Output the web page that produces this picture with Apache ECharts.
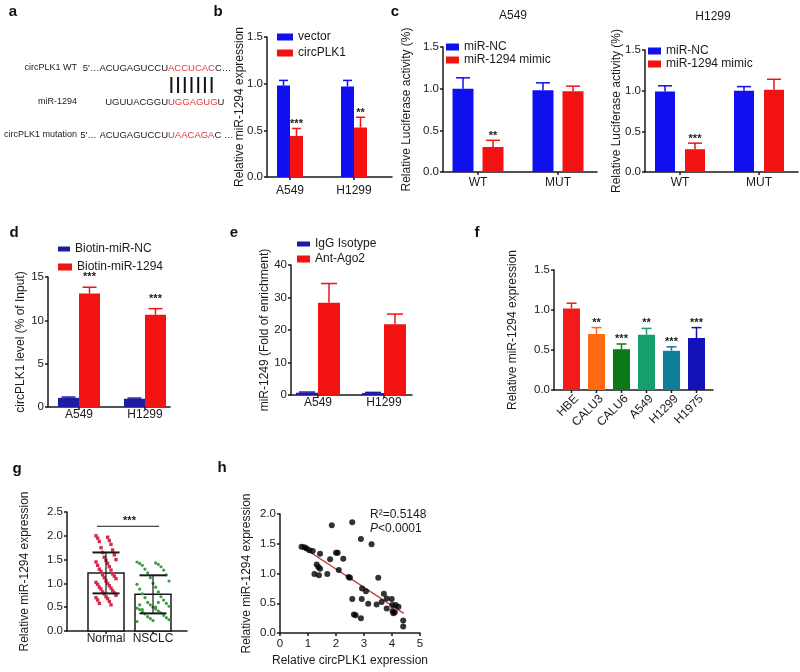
<!DOCTYPE html>
<html><head><meta charset="utf-8"><title>chart</title>
<script src="https://cdn.jsdelivr.net/npm/echarts@6.0.0/dist/echarts.min.js"></script>
<style>html,body{margin:0;padding:0;background:#fff;}#chart{width:800px;height:672px;}</style>
</head><body><div id="chart"></div>
<script>
// ================= DATA =================
// panel a
const aLabels = ['circPLK1 WT', 'miR-1294', 'circPLK1 mutation'];
const aPrefix = ["5'\u2026ACUGAGUCCU", 'UGUUACGGU', "5'\u2026 ACUGAGUCCU"];
const aSeed = ['ACCUCAC', 'UGGAGUG', 'UAACAGA'];
const aSuffix = ['C\u2026', 'U', 'C \u2026'];

// panel b
const bCategories = ['A549', 'H1299'];
const bVector = [0.98, 0.97];
const bVectorSD = [0.055, 0.065];
const bCircPLK1 = [0.44, 0.53];
const bCircPLK1SD = [0.08, 0.11];
const bStars = ['***', '**'];

// panel c
const cCategories = ['WT', 'MUT'];
const cA549NC = [1.00, 0.98];
const cA549NCSD = [0.13, 0.09];
const cA549Mimic = [0.30, 0.97];
const cA549MimicSD = [0.08, 0.06];
const cA549Stars = ['**', ''];
const cH1299NC = [0.99, 1.00];
const cH1299NCSD = [0.07, 0.05];
const cH1299Mimic = [0.28, 1.01];
const cH1299MimicSD = [0.075, 0.13];
const cH1299Stars = ['***', ''];

// panel d
const dCategories = ['A549', 'H1299'];
const dNC = [1.05, 0.95];
const dNCSD = [0.1, 0.08];
const d1294 = [13.1, 10.65];
const d1294SD = [0.72, 0.7];
const dStars = ['***', '***'];

// panel e
const eCategories = ['A549', 'H1299'];
const eIgG = [0.7, 0.6];
const eIgGSD = [0.2, 0.2];
const eAgo2 = [28.4, 21.8];
const eAgo2SD = [5.9, 3.1];

// panel f
const fCategories = ['HBE', 'CALU3', 'CALU6', 'A549', 'H1299', 'H1975'];
const fValues = [1.02, 0.70, 0.51, 0.69, 0.49, 0.65];
const fSD = [0.065, 0.08, 0.065, 0.08, 0.05, 0.13];
const fStars = ['', '**', '***', '**', '***', '***'];

// panel g
const gCategories = ['Normal', 'NSCLC'];
const gNormal = [2.00, 1.97, 1.95, 1.90, 1.88, 1.82, 1.75, 1.70, 1.65, 1.60, 1.55, 1.50, 1.48, 1.45, 1.42,
  1.38, 1.35, 1.30, 1.28, 1.25, 1.20, 1.18, 1.15, 1.12, 1.10, 1.05, 1.02, 1.00, 0.98, 0.95,
  0.92, 0.90, 0.88, 0.85, 0.82, 0.80, 0.78, 0.75, 0.72, 0.70, 0.68, 0.65, 0.62, 0.58, 0.55];
const gNSCLC = [1.45, 1.43, 1.42, 1.40, 1.38, 1.35, 1.30, 1.28, 1.22, 1.18, 1.12, 1.05, 1.00, 0.98, 0.92,
  0.88, 0.82, 0.78, 0.72, 0.70, 0.65, 0.60, 0.58, 0.55, 0.52, 0.50, 0.48, 0.46, 0.45, 0.42,
  0.40, 0.38, 0.36, 0.33, 0.30, 0.28, 0.26, 0.24, 0.22, 0.20, 0.50, 0.55, 0.60, 0.45];
const gMeans = [1.22, 0.77];
const gSD = [0.43, 0.40];
const gSigLabel = '***';

// panel h
const hX = [0.77, 0.87, 0.95, 1.05, 1.17, 1.43, 1.23, 1.31, 1.37, 1.43, 1.39, 1.69, 1.79, 1.85, 2.00,
  2.06, 2.10, 2.26, 2.45, 2.50, 2.58, 2.58, 2.64, 2.70, 2.89, 2.89, 2.93, 2.92, 3.07, 3.15,
  3.27, 3.45, 3.51, 3.63, 3.71, 3.81, 3.81, 3.99, 4.01, 4.05, 4.10, 4.13, 4.23, 4.40, 4.40, 4.02];
const hY = [1.45, 1.44, 1.42, 1.39, 1.38, 1.33, 0.99, 1.15, 1.11, 1.08, 0.97, 0.99, 1.24, 1.81, 1.35,
  1.35, 1.06, 1.25, 0.94, 0.93, 1.86, 0.57, 0.31, 0.30, 0.25, 1.58, 0.75, 0.57, 0.70, 0.49,
  1.49, 0.48, 0.93, 0.52, 0.66, 0.58, 0.41, 0.57, 0.47, 0.33, 0.35, 0.47, 0.44, 0.21, 0.11, 0.37];
const hFitStart = [0.78, 1.45];
const hFitEnd = [4.42, 0.33];
const hStatR2 = 'R\u00b2=0.5148';
const hStatP = '<0.0001';

// ================= STYLE / LAYOUT =================
const FONT = '"Liberation Sans", Arial, Helvetica, sans-serif';
const TXT = '#1a1a1a';
const AX = '#1a1a1a';
const BLUE = '#0f0ff0';
const RED = '#f21212';
const NAVY = '#1c1ca2';
const SEQRED = '#e4383c';
const fColors = ['#f21a1a', '#ff6912', '#0b7a16', '#17a06e', '#0e7f95', '#1212b6'];
const TICKFONT = 11.5;

const grids = [], xAxes = [], yAxes = [], series = [], legends = [], graphics = [];

const fmt1 = v => v.toFixed(1);
const fmt0 = v => String(Math.round(v));

function addGrid(L) {
  grids.push({left: L.left, top: L.top, width: L.width, height: L.height, containLabel: false, outerBoundsMode: 'none'});
  return grids.length - 1;
}
function yAxisCfg(gi, L, name, fmt) {
  return {gridIndex: gi, type: 'value', min: L.yMin, max: L.yMax, interval: L.yInt,
    axisLine: {show: true, onZero: false, lineStyle: {color: AX, width: 1.5}},
    axisTick: {show: true, inside: false, length: 3, lineStyle: {color: AX, width: 1.5}},
    axisLabel: {show: true, color: TXT, fontSize: TICKFONT, fontFamily: FONT, margin: 4, formatter: fmt},
    splitLine: {show: false},
    name: name, nameLocation: 'middle', nameGap: L.nameGap, nameMoveOverlap: false,
    nameTextStyle: {color: TXT, fontSize: 12, fontFamily: FONT}};
}
function catXAxisCfg(gi, L) {
  return {gridIndex: gi, type: 'value', min: (L.left - L.c0) / L.step, max: (L.left + L.width - L.c0) / L.step,
    axisLine: {show: true, onZero: false, lineStyle: {color: AX, width: 1.5}},
    axisTick: {show: false}, axisLabel: {show: false}, splitLine: {show: false}};
}
function txt(x, y, text, o) {
  o = o || {};
  return {type: 'text', x: x, y: y, rotation: o.rotation || 0, silent: true,
    style: {text: text, fill: o.color || TXT, font: o.font || ('12px ' + FONT),
      align: o.align || 'center', verticalAlign: o.va || 'middle',
      textAlign: o.align || 'center', textVerticalAlign: o.va || 'middle'}};
}
function catSeries(gi, cats, L) {
  return {type: 'custom', xAxisIndex: gi, yAxisIndex: gi, silent: true, z: 4,
    data: cats.map((c, i) => [i, 0]), encode: {x: 0, y: 1},
    renderItem(params, api) {
      const i = api.value(0);
      const p = api.coord([i, 0]);
      const ch = [{type: 'line', shape: {x1: p[0], y1: p[1], x2: p[0], y2: p[1] + 3}, style: {stroke: AX, lineWidth: 1.5}}];
      if (L.rotate) ch.push(txt(p[0] + L.ldx, p[1] + L.ldy, cats[i], {align: 'right', rotation: Math.PI / 4}));
      else ch.push(txt(p[0], p[1] + L.ldy, cats[i]));
      return {type: 'group', children: ch};
    }};
}
function barSeries(gi, G, L) {
  return {type: 'custom', name: G.name, xAxisIndex: gi, yAxisIndex: gi, z: 2,
    itemStyle: {color: G.color || G.colors[0]},
    data: G.values.map((v, i) => [i, v, G.sd[i]]), encode: {x: 0, y: 1},
    renderItem(params, api) {
      const i = api.value(0), v = api.value(1), sd = api.value(2);
      const base = api.coord([i, 0]), top = api.coord([i, v]), et = api.coord([i, v + sd]);
      const cx = base[0] + G.offset;
      const col = G.colors ? G.colors[i] : G.color;
      const ch = [
        {type: 'rect', shape: {x: cx - L.barW / 2, y: top[1], width: L.barW, height: base[1] - top[1]}, style: {fill: col}},
        {type: 'line', shape: {x1: cx, y1: top[1], x2: cx, y2: et[1]}, style: {stroke: col, lineWidth: 1.5}},
        {type: 'line', shape: {x1: cx - L.cap / 2, y1: et[1], x2: cx + L.cap / 2, y2: et[1]}, style: {stroke: col, lineWidth: 1.5}}
      ];
      if (G.stars && G.stars[i]) ch.push(txt(cx, et[1] - L.starGap, G.stars[i], {font: 'bold 11px ' + FONT}));
      return {type: 'group', children: ch};
    }};
}
function addLegend(name, left, cy, w, h) {
  legends.push({show: true, data: [name], left: left, top: cy - 7, orient: 'horizontal', padding: 0, itemGap: 0,
    icon: 'rect', itemWidth: w, itemHeight: h, selectedMode: false, itemStyle: {borderWidth: 0},
    textStyle: {fontSize: 12, fontFamily: FONT, color: TXT}});
}
function barPanel(L, yName, fmt, cats, groups) {
  const gi = addGrid(L);
  xAxes.push(catXAxisCfg(gi, L));
  yAxes.push(yAxisCfg(gi, L, yName, fmt));
  groups.forEach(G => series.push(barSeries(gi, G, L)));
  series.push(catSeries(gi, cats, L));
  return gi;
}

// ---- panel b ----
const bL = {left: 267, top: 37, width: 125, height: 140, c0: 290, step: 64, yMin: 0, yMax: 1.5, yInt: 0.5,
  nameGap: 21, barW: 13, cap: 9, starGap: 4, ldy: 14};
barPanel(bL, 'Relative miR-1294 expression', fmt1, bCategories, [
  {name: 'vector', color: BLUE, values: bVector, sd: bVectorSD, offset: -6.5},
  {name: 'circPLK1', color: RED, values: bCircPLK1, sd: bCircPLK1SD, stars: bStars, offset: 6.5}]);
addLegend('vector', 277, 38, 16, 7);
addLegend('circPLK1', 277, 54, 16, 7);

// ---- panel c (A549) ----
const cAL = {left: 443, top: 47, width: 154, height: 125, c0: 478, step: 80, yMin: 0, yMax: 1.5, yInt: 0.5,
  nameGap: 30, barW: 21, cap: 14, starGap: 4, ldy: 11};
barPanel(cAL, 'Relative Luciferase activity (%)', fmt1, cCategories, [
  {name: 'miR-NC', color: BLUE, values: cA549NC, sd: cA549NCSD, offset: -15},
  {name: 'miR-1294 mimic', color: RED, values: cA549Mimic, sd: cA549MimicSD, stars: cA549Stars, offset: 15}]);
addLegend('miR-NC', 446, 48, 13, 7);
addLegend('miR-1294 mimic', 446, 61, 13, 7);

// ---- panel c (H1299) ----
const cHL = {left: 645, top: 50, width: 153, height: 122, c0: 680, step: 79, yMin: 0, yMax: 1.5, yInt: 0.5,
  nameGap: 22, barW: 20, cap: 14, starGap: 4, ldy: 11};
barPanel(cHL, 'Relative Luciferase activity (%)', fmt1, cCategories, [
  {name: 'miR-NC', color: BLUE, values: cH1299NC, sd: cH1299NCSD, offset: -15},
  {name: 'miR-1294 mimic', color: RED, values: cH1299Mimic, sd: cH1299MimicSD, stars: cH1299Stars, offset: 15}]);
addLegend('miR-NC', 648, 52, 13, 7);
addLegend('miR-1294 mimic', 648, 65, 13, 7);

// ---- panel d ----
const dL = {left: 48, top: 277, width: 122, height: 130, c0: 79, step: 66, yMin: 0, yMax: 15, yInt: 5,
  nameGap: 21, barW: 21, cap: 14, starGap: 10, ldy: 8};
barPanel(dL, 'circPLK1 level (% of Input)', fmt0, dCategories, [
  {name: 'Biotin-miR-NC', color: NAVY, values: dNC, sd: dNCSD, offset: -10.5},
  {name: 'Biotin-miR-1294', color: RED, values: d1294, sd: d1294SD, stars: dStars, offset: 10.5}]);
addLegend('Biotin-miR-NC', 58, 250, 12, 5);
addLegend('Biotin-miR-1294', 58, 268, 14, 7);

// ---- panel e ----
const eL = {left: 291, top: 265, width: 121, height: 130, c0: 318, step: 66, yMin: 0, yMax: 40, yInt: 10,
  nameGap: 20, barW: 22, cap: 16, starGap: 4, ldy: 8};
barPanel(eL, 'miR-1249 (Fold of enrichment)', fmt0, eCategories, [
  {name: 'IgG Isotype', color: NAVY, values: eIgG, sd: eIgGSD, offset: -11},
  {name: 'Ant-Ago2', color: RED, values: eAgo2, sd: eAgo2SD, offset: 11}]);
addLegend('IgG Isotype', 297, 245, 13, 5);
addLegend('Ant-Ago2', 297, 260, 13, 7);

// ---- panel f ----
const fL = {left: 554, top: 270, width: 159, height: 120, c0: 571.5, step: 25, yMin: 0, yMax: 1.5, yInt: 0.5,
  nameGap: 35, barW: 17, cap: 10, starGap: 5, rotate: true, ldx: 5, ldy: 7};
barPanel(fL, 'Relative miR-1294 expression', fmt1, fCategories, [
  {name: 'cell lines', colors: fColors, values: fValues, sd: fSD, stars: fStars, offset: 0}]);

// ---- panel g ----
const gL = {left: 67, top: 512, width: 120, height: 119, c0: 106, step: 47, yMin: 0, yMax: 2.5, yInt: 0.5,
  nameGap: 36, barW: 36, cap: 27, ldy: 8, sigLevel: 2.2, sigExtL: 9, sigExtR: 6};
(function () {
  const gi = addGrid(gL);
  xAxes.push(catXAxisCfg(gi, gL));
  yAxes.push(yAxisCfg(gi, gL, 'Relative miR-1294 expression', fmt1));
  series.push({type: 'custom', xAxisIndex: gi, yAxisIndex: gi, z: 1, silent: true,
    data: gMeans.map((m, i) => [i, m]), encode: {x: 0, y: 1},
    renderItem(params, api) {
      const i = api.value(0), m = api.value(1);
      const b = api.coord([i, 0]), t = api.coord([i, m]);
      return {type: 'rect', shape: {x: b[0] - gL.barW / 2, y: t[1], width: gL.barW, height: b[1] - t[1]},
        style: {fill: '#fff', stroke: AX, lineWidth: 1.5}};
    }});
  const dots = (cat, vals, color, spread, shape) => ({type: 'custom', xAxisIndex: gi, yAxisIndex: gi, z: 2, silent: true,
    data: vals.map((v, i) => [cat, v, i]), encode: {x: 0, y: 1},
    renderItem(params, api) {
      const p = api.coord([api.value(0), api.value(1)]);
      const k = api.value(2);
      const jit = spread * (((k * 7) % 13) / 6 - 1);
      const x = p[0] + jit;
      if (shape === 'rect') return {type: 'rect', shape: {x: x - 1.7, y: p[1] - 1.7, width: 3.4, height: 3.4}, style: {fill: color}};
      return {type: 'circle', shape: {cx: x, cy: p[1], r: 1.6}, style: {fill: color}};
    }});
  series.push(dots(0, gNormal, '#d22d4b', 10, 'rect'));
  series.push(dots(1, gNSCLC, '#3c9c46', 16, 'circle'));
  series.push({type: 'custom', xAxisIndex: gi, yAxisIndex: gi, z: 3, silent: true,
    data: gMeans.map((m, i) => [i, m, gSD[i]]), encode: {x: 0, y: 1},
    renderItem(params, api) {
      const i = api.value(0), m = api.value(1), sd = api.value(2);
      const hi = api.coord([i, m + sd]), lo = api.coord([i, m - sd]);
      const cx = hi[0], c = gL.cap / 2;
      return {type: 'group', children: [
        {type: 'line', shape: {x1: cx, y1: hi[1], x2: cx, y2: lo[1]}, style: {stroke: AX, lineWidth: 1.2}},
        {type: 'line', shape: {x1: cx - c, y1: hi[1], x2: cx + c, y2: hi[1]}, style: {stroke: AX, lineWidth: 2}},
        {type: 'line', shape: {x1: cx - c, y1: lo[1], x2: cx + c, y2: lo[1]}, style: {stroke: AX, lineWidth: 2}}]};
    }});
  series.push({type: 'custom', xAxisIndex: gi, yAxisIndex: gi, z: 3, silent: true,
    data: [[0, gL.sigLevel]], encode: {x: 0, y: 1},
    renderItem(params, api) {
      const a = api.coord([0, api.value(1)]), b = api.coord([1, api.value(1)]);
      return {type: 'group', children: [
        {type: 'line', shape: {x1: a[0] - gL.sigExtL, y1: a[1], x2: b[0] + gL.sigExtR, y2: a[1]}, style: {stroke: AX, lineWidth: 1}},
        txt((a[0] + b[0]) / 2, a[1] - 5, gSigLabel, {font: 'bold 11px ' + FONT})]};
    }});
  series.push(catSeries(gi, gCategories, gL));
})();

// ---- panel h ----
const hL = {left: 280, top: 514, width: 140, height: 119, yMin: 0, yMax: 2, yInt: 0.5, nameGap: 27};
(function () {
  const gi = addGrid(hL);
  xAxes.push({gridIndex: gi, type: 'value', min: 0, max: 5, interval: 1,
    axisLine: {show: true, onZero: false, lineStyle: {color: AX, width: 1.5}},
    axisTick: {show: true, length: 3, lineStyle: {color: AX, width: 1.5}},
    axisLabel: {show: true, color: TXT, fontSize: TICKFONT, fontFamily: FONT, margin: 5},
    splitLine: {show: false},
    name: 'Relative circPLK1 expression', nameLocation: 'middle', nameGap: 22, nameMoveOverlap: false,
    nameTextStyle: {color: TXT, fontSize: 12, fontFamily: FONT}});
  yAxes.push(yAxisCfg(gi, hL, 'Relative miR-1294 expression', fmt1));
  series.push({type: 'line', xAxisIndex: gi, yAxisIndex: gi, z: 1, silent: true, symbol: 'none',
    data: [hFitStart, hFitEnd], lineStyle: {color: '#c0393b', width: 1.3}});
  series.push({type: 'scatter', xAxisIndex: gi, yAxisIndex: gi, z: 2, silent: true, symbol: 'circle', symbolSize: 6,
    data: hX.map((x, i) => [x, hY[i]]), itemStyle: {color: '#000'}});
})();

// ---- texts: panel letters, titles, panel a, stats ----
const LB = 'bold 15px ' + FONT;
[['a', 13, 12], ['b', 218, 12], ['c', 395, 12], ['d', 14, 233], ['e', 234, 233], ['f', 477, 233], ['g', 17, 469], ['h', 222, 468]]
  .forEach(t => graphics.push(txt(t[1], t[2], t[0], {font: LB, color: '#111'})));
graphics.push(txt(513, 16, 'A549'));
graphics.push(txt(713, 17, 'H1299'));
graphics.push(txt(370, 515, hStatR2, {align: 'left'}));
graphics.push(txt(370, 529, 'P', {align: 'left', font: 'italic 12px ' + FONT}));
graphics.push(txt(378, 529, hStatP, {align: 'left'}));

(function () {
  const ys = [68, 102, 135], labelRight = 77, split = 168;
  const seqFont = '9.5px ' + FONT;
  const cv = document.createElement('canvas').getContext('2d');
  cv.font = seqFont;
  for (let r = 0; r < 3; r++) {
    graphics.push(txt(labelRight, ys[r], aLabels[r], {align: 'right', font: '9px ' + FONT}));
    graphics.push(txt(split, ys[r], aPrefix[r], {align: 'right', font: seqFont}));
    graphics.push(txt(split, ys[r], aSeed[r], {align: 'left', font: seqFont, color: SEQRED}));
    const w = cv.measureText(aSeed[r]).width;
    graphics.push(txt(split + w, ys[r], aSuffix[r], {align: 'left', font: seqFont}));
  }
  // pairing bars under the seed letters
  const w0 = cv.measureText(aSeed[0]).width;
  const n = aSeed[0].length;
  for (let k = 0; k < n; k++) {
    const x = split + (k + 0.5) * w0 / n;
    graphics.push({type: 'line', silent: true, shape: {x1: x, y1: 77, x2: x, y2: 93}, style: {stroke: '#111', lineWidth: 2}});
  }
})();

const chart = echarts.init(document.getElementById('chart'), null, {renderer: 'canvas'});
chart.setOption({
  animation: false,
  backgroundColor: '#fff',
  textStyle: {fontFamily: FONT},
  grid: grids, xAxis: xAxes, yAxis: yAxes, series: series, legend: legends,
  graphic: {elements: graphics}
});
</script></body></html>
